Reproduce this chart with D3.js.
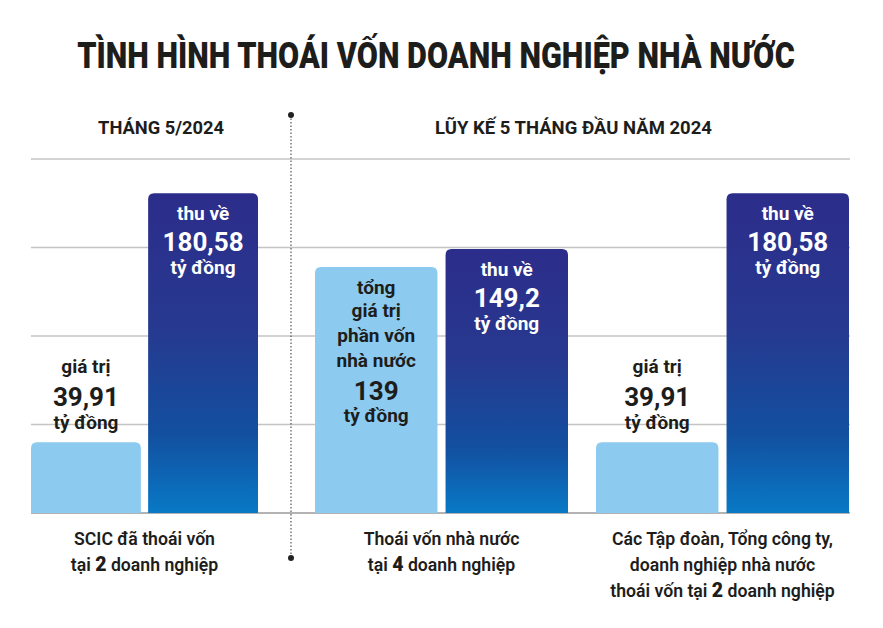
<!DOCTYPE html>
<html>
<head>
<meta charset="utf-8">
<script src="https://cdn.jsdelivr.net/npm/d3@7"></script>
<style>
  html, body { margin: 0; padding: 0; background: #ffffff; }
  svg { display: block; }
</style>
</head>
<body>
<svg id="chart" width="883" height="628"></svg>
<script>
// ---------------- DATA ----------------
const titleText = "TÌNH HÌNH THOÁI VỐN DOANH NGHIỆP NHÀ NƯỚC";
const headers = ["THÁNG 5/2024", "LŨY KẾ 5 THÁNG ĐẦU NĂM 2024"];
const groupKeys = ["scic", "nhanuoc", "tapdoan"];
const lightValues = [39.91, 139, 39.91];
const darkValues = [180.58, 149.2, 180.58];
const gridTicks = [0, 50, 100, 150, 200];
const lightLabels = [
  ["giá trị", "39,91", "tỷ đồng"],
  ["tổng", "giá trị", "phần vốn", "nhà nước", "139", "tỷ đồng"],
  ["giá trị", "39,91", "tỷ đồng"]
];
const darkLabels = [
  ["thu về", "180,58", "tỷ đồng"],
  ["thu về", "149,2", "tỷ đồng"],
  ["thu về", "180,58", "tỷ đồng"]
];
const captions = [
  ["SCIC đã thoái vốn", "tại **2** doanh nghiệp"],
  ["Thoái vốn nhà nước", "tại **4** doanh nghiệp"],
  ["Các Tập đoàn, Tổng công ty,", "doanh nghiệp nhà nước", "thoái vốn tại **2** doanh nghiệp"]
];

// ---------------- LAYOUT ----------------
const svg = d3.select("#chart");
const baseY = 513, topY = 159;
const y = d3.scaleLinear().domain([0, 200]).range([baseY, topY]);
const groupLeft = d3.scaleOrdinal(groupKeys, [31, 315, 596]);
const groupWidth = d3.scaleOrdinal(groupKeys, [227, 253, 253]);
const inner = key => d3.scaleBand().domain(["light", "dark"])
  .range([groupLeft(key), groupLeft(key) + groupWidth(key)]).paddingInner(0.062).paddingOuter(0);
const gridX0 = 31, gridX1 = 850;
const ink = "#1d1d1b";
const FONT = "Roboto, 'Open Sans', sans-serif";

// gradient
const defs = svg.append("defs");
const grad = defs.append("linearGradient").attr("id", "darkGrad")
  .attr("x1", 0).attr("y1", 0).attr("x2", 0).attr("y2", 1);
[["0%", "#2c2d8a"], ["40%", "#27388f"], ["75%", "#134f9f"], ["100%", "#0879c6"]]
  .forEach(([o, c]) => grad.append("stop").attr("offset", o).attr("stop-color", c));

// fitted (horizontally condensed) text helper
function fittedText(txt, cx, by, targetW, size, weight) {
  const g = svg.append("g");
  const t = g.append("text").text(txt).attr("text-anchor", "middle")
    .attr("font-family", FONT).attr("font-weight", weight).attr("font-size", size)
    .attr("fill", ink);
  const w = t.node().getComputedTextLength() || targetW;
  g.attr("transform", `translate(${cx},${by}) scale(${targetW / w},1)`);
}

// title
fittedText(titleText, 77 + 718 / 2, 68, 718, 37, 900);

// headers
const headerPos = [[98, 126], [435, 277]];
headers.forEach((h, i) => fittedText(h, headerPos[i][0] + headerPos[i][1] / 2, 134, headerPos[i][1], 18, 700));

// gridlines
svg.append("g").selectAll("line").data(gridTicks).join("line")
  .attr("x1", gridX0).attr("x2", gridX1)
  .attr("y1", d => y(d)).attr("y2", d => y(d))
  .attr("stroke", d => d === 0 ? "#9a9a9a" : "#c4c4c4")
  .attr("stroke-width", 1.5);

// divider
const divX = 291;
svg.append("line").attr("x1", divX).attr("x2", divX).attr("y1", 115).attr("y2", 558)
  .attr("stroke", "#333").attr("stroke-width", 1).attr("stroke-dasharray", "1.5,2");
[115, 558].forEach(cy => svg.append("circle").attr("cx", divX).attr("cy", cy).attr("r", 3).attr("fill", "#222"));

// rounded-top bar path
function barPath(x, yTop, w, h, r) {
  r = Math.min(r, h, w / 2);
  return `M${x},${yTop + h}V${yTop + r}Q${x},${yTop} ${x + r},${yTop}H${x + w - r}Q${x + w},${yTop} ${x + w},${yTop + r}V${yTop + h}Z`;
}

const bars = [];
groupKeys.forEach((k, i) => {
  const sb = inner(k);
  bars.push({ key: k, kind: "light", i, v: lightValues[i], x: sb("light"), w: sb.bandwidth() });
  bars.push({ key: k, kind: "dark", i, v: darkValues[i], x: sb("dark"), w: sb.bandwidth() });
});

svg.append("g").selectAll("path").data(bars).join("path")
  .attr("d", d => barPath(d.x, y(d.v), d.w, y(0) - y(d.v), 6))
  .attr("fill", d => d.kind === "light" ? "#8ccaef" : "url(#darkGrad)");

// labels
function isNum(s) { return /^[0-9,]+$/.test(s); }
bars.forEach(d => {
  const cx = d.x + d.w / 2;
  const top = y(d.v);
  let lines, ys, color;
  if (d.kind === "dark") {
    lines = darkLabels[d.i];
    ys = [top + 27, top + 58, top + 81];
    color = "#ffffff";
  } else if (lines = lightLabels[d.i], lines.length === 6) {
    ys = [top + 27, top + 50, top + 75, top + 100, top + 133, top + 155];
    color = ink;
  } else {
    ys = [top - 69, top - 36, top - 13];
    color = ink;
  }
  lines.forEach((t, j) => {
    const num = isNum(t);
    svg.append("text").text(t)
      .attr("x", cx).attr("y", ys[j])
      .attr("text-anchor", "middle")
      .attr("font-family", FONT).attr("font-weight", 700)
      .attr("font-size", num ? 26 : 19)
      .attr("fill", color);
  });
});

// captions
const capY = [545, 571, 597];
groupKeys.forEach((k, i) => {
  const cx = groupLeft(k) + groupWidth(k) / 2;
  captions[i].forEach((line, j) => {
    const g = svg.append("g").attr("transform", `translate(${cx},${capY[j]}) scale(0.93,1)`);
    const t = g.append("text").attr("text-anchor", "middle")
      .attr("font-family", FONT).attr("font-weight", 600).attr("font-size", 19).attr("fill", ink);
    line.split(/(\*\*[^*]+\*\*)/).filter(s => s.length).forEach(part => {
      const bold = part.startsWith("**");
      t.append("tspan").text(bold ? part.slice(2, -2) : part)
        .attr("font-weight", bold ? 900 : 600)
        .attr("font-size", bold ? 21 : 19);
    });
  });
});
</script>
</body>
</html>
